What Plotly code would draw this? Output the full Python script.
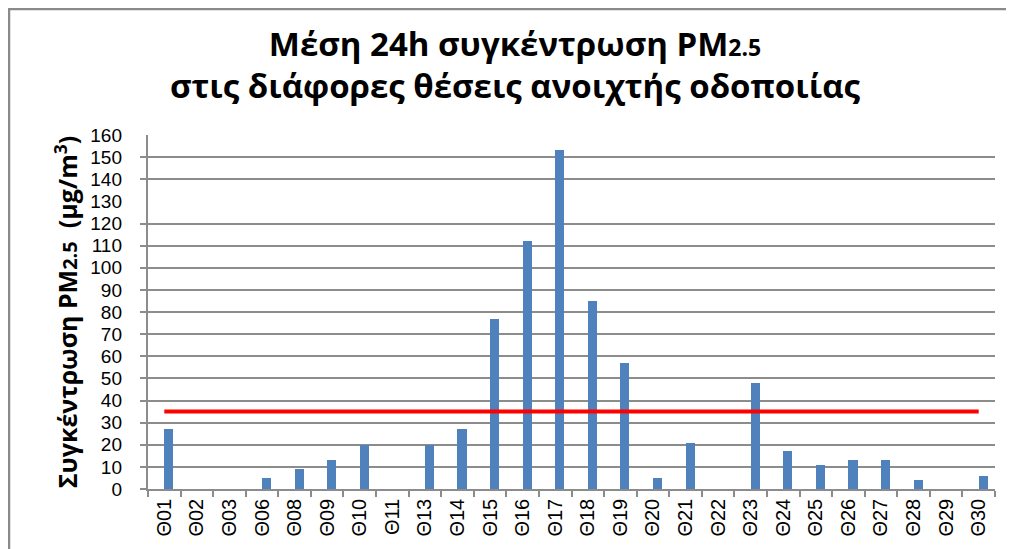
import plotly.graph_objects as go

categories = ["Θ01", "Θ02", "Θ03", "Θ06", "Θ08", "Θ09", "Θ10", "Θ11", "Θ13", "Θ14",
              "Θ15", "Θ16", "Θ17", "Θ18", "Θ19", "Θ20", "Θ21", "Θ22", "Θ23", "Θ24",
              "Θ25", "Θ26", "Θ27", "Θ28", "Θ29", "Θ30"]
pm25 = [27, 0, 0, 5, 9, 13, 20, 0, 20, 27,
        77, 112, 153, 85, 57, 5, 21, 0, 48, 17,
        11, 13, 13, 4, 0, 6]
limit = [35, 35, 35, 35, 35, 35, 35, 35, 35, 35,
         35, 35, 35, 35, 35, 35, 35, 35, 35, 35,
         35, 35, 35, 35, 35, 35]
y_labels = [0, 10, 20, 30, 40, 50, 60, 70, 80, 90, 100, 110, 120, 130, 140, 150, 160]
grid_values = [0, 10, 20, 30, 40, 50, 60, 70, 80, 90, 100, 110, 120, 140, 150]

GRID = "#8c8c8c"
# the page body has an 8px margin, so the figure is sized to fit inside the window
W, H = 1006, 541
L, R, T, B = 140, 19, 127, 60
pw, ph = W - L - R, H - T - B

fig = go.Figure()
fig.add_trace(go.Bar(x=categories, y=pm25, marker_color="#4F81BD",
                     marker_line_width=0, offset=0, width=0.28,
                     showlegend=False, yaxis="y"))
fig.add_trace(go.Scatter(x=categories, y=limit, mode="lines",
                         line=dict(color="#FF0000", width=4),
                         showlegend=False, yaxis="y"))
fig.add_trace(go.Scatter(x=[categories[0]], y=[0], yaxis="y2", mode="markers",
                         marker=dict(opacity=0), hoverinfo="skip", showlegend=False))

fig.update_layout(
    width=W, height=H,
    margin=dict(l=L, r=R, t=T, b=B, autoexpand=False),
    paper_bgcolor="white", plot_bgcolor="white",
    font=dict(family="Liberation Sans, Arial, sans-serif", color="black"),
    title=dict(
        text="<b>Μέση 24h συγκέντρωση PM<span style='font-size:23px'>2.5</span></b><br>"
             "<b>στις διάφορες θέσεις ανοιχτής οδοποιίας</b>",
        font=dict(family="Open Sans, sans-serif", size=33, color="black"),
        x=0.504, xanchor="center", xref="container",
        y=1 - 47.5 / H, yanchor="middle", yref="container"),
    bargap=0,
    xaxis=dict(type="category", tickson="boundaries", ticks="outside", ticklen=6,
               tickcolor=GRID, tickwidth=1.5, showline=True, linecolor=GRID,
               linewidth=1.5, tickangle=-90, tickfont=dict(size=20),
               showgrid=False, automargin=False,
               range=[-0.5, len(categories) - 0.5]),
    yaxis=dict(range=[0, 160], tickvals=grid_values, showticklabels=False,
               showgrid=True, gridcolor=GRID, gridwidth=1.5, ticks="outside",
               ticklen=6, tickcolor=GRID, tickwidth=1.5, showline=True,
               linecolor=GRID, linewidth=2, zeroline=False, automargin=False),
    yaxis2=dict(range=[0, 160], overlaying="y", side="left", tickvals=y_labels,
                showgrid=False, ticks="", showline=False, zeroline=False,
                tickfont=dict(size=19), ticklabelstandoff=25, automargin=False,
                title=dict(text="<b>Συγκέντρωση PM<span style='font-size:20px'>2.5</span>  (μg/m<sup>3</sup>)</b>",
                           font=dict(family="Open Sans, sans-serif", size=25),
                           standoff=5)),
)

# outer chart frame (cut by the image edge at right and bottom)
fig.add_shape(type="rect", xref="paper", yref="paper",
              x0=(1 - L) / pw, x1=(W + 20 - L) / pw,
              y0=(H - B - (H + 20)) / ph, y1=(H - B - 1) / ph,
              line=dict(color="#8a8a8a", width=2.5), fillcolor="rgba(0,0,0,0)",
              layer="below")

fig.write_html("out.html")
